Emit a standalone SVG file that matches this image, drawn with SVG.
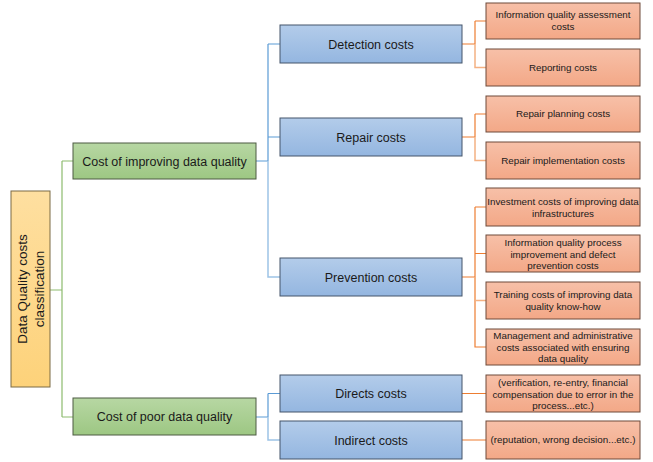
<svg xmlns="http://www.w3.org/2000/svg" width="653" height="462" viewBox="0 0 653 462">
<defs>
<linearGradient id="gY" x1="0" y1="0" x2="0" y2="1"><stop offset="0" stop-color="#FEDFA0"/><stop offset="1" stop-color="#FDD27A"/></linearGradient>
<linearGradient id="gG" x1="0" y1="0" x2="0" y2="1"><stop offset="0" stop-color="#B7D7A3"/><stop offset="1" stop-color="#9DC783"/></linearGradient>
<linearGradient id="gB" x1="0" y1="0" x2="0" y2="1"><stop offset="0" stop-color="#B3CCEA"/><stop offset="1" stop-color="#94B6E0"/></linearGradient>
<linearGradient id="gO" x1="0" y1="0" x2="0" y2="1"><stop offset="0" stop-color="#F7C0A8"/><stop offset="1" stop-color="#F3A887"/></linearGradient>
</defs>
<style>
.y{fill:url(#gY);stroke:#7a6a45;stroke-width:1}
.g{fill:url(#gG);stroke:#4d5b42;stroke-width:1}
.b{fill:url(#gB);stroke:#44546a;stroke-width:1}
.o{fill:url(#gO);stroke:#6e4a3a;stroke-width:1}
text{font-family:"Liberation Sans",Arial,sans-serif;fill:#1a1a1a;text-anchor:middle}
.tg{font-size:12.5px}
.tb{font-size:12.5px}
.to{font-size:9.8px}
.tr{font-size:13.5px}
.cg{fill:none;stroke:#8DBB6E;stroke-width:1.2}
.cb{fill:none;stroke:#5B9BD5;stroke-width:1.2}
.cb2{fill:none;stroke:#9DC3E6;stroke-width:1.5}
.co{fill:none;stroke:#ED7D31;stroke-width:1.2}
.co2{fill:none;stroke:#F4B183;stroke-width:1.5}
</style>
<g id="connectors">
<path class="cg" d="M50 290 H62 M62 161 V417 M62 161 H73 M62 417 H73"/>
<path class="cb" d="M256 161 H268 M268 44 V161 M268 44 H280 M268 137 H280"/>
<path class="cb2" d="M268 161 V277 H280"/>
<path class="cb" d="M256 417 H268 M268 393.5 V417 M268 393.5 H280"/>
<path class="cb2" d="M268 417 V440 H280"/>
<path class="co" d="M462 44 H475 M475 21 V44 M475 21 H486"/>
<path class="co2" d="M475 44 V67.5 H486"/>
<path class="co" d="M462 137 H475 M475 114 V137 M475 114 H486"/>
<path class="co2" d="M475 137 V160.5 H486"/>
<path class="co" d="M462 277 H475 M475 207 V277 M475 207 H486 M475 253.5 H486 M475 277 V347 H486"/>
<path class="co2" d="M475 277 V300.5 H486"/>
<path class="co" d="M462 393.5 H486 M462 440 H486"/>
</g>
<g id="root">
<rect class="y" x="11" y="191" width="39" height="196"/>
<text class="tr" transform="translate(30.5 289) rotate(-90)"><tspan x="0" y="-4">Data Quality costs</tspan><tspan x="0" y="13">classification</tspan></text>
</g>
<g id="improving">
<rect class="g" x="73" y="143" width="183" height="36"/>
<text class="tg" x="164.5" y="165.5">Cost of improving data quality</text>
</g>
<g id="poor">
<rect class="g" x="73" y="398" width="183" height="37"/>
<text class="tg" x="164.5" y="421">Cost of poor data quality</text>
</g>
<g id="detection">
<rect class="b" x="280" y="25" width="182" height="38"/>
<text class="tb" x="371" y="48.5">Detection  costs</text>
</g>
<g id="repair">
<rect class="b" x="280" y="118" width="182" height="38"/>
<text class="tb" x="371" y="141.5">Repair costs</text>
</g>
<g id="prevention">
<rect class="b" x="280" y="258" width="182" height="38"/>
<text class="tb" x="371" y="281.5">Prevention costs</text>
</g>
<g id="directs">
<rect class="b" x="280" y="375" width="182" height="37"/>
<text class="tb" x="371" y="398">Directs costs</text>
</g>
<g id="indirect">
<rect class="b" x="280" y="421" width="182" height="38"/>
<text class="tb" x="371" y="444.5">Indirect costs</text>
</g>
<g id="assessment">
<rect class="o" x="486" y="3" width="154" height="36"/>
<text class="to" x="563" y="18">Information quality assessment</text>
<text class="to" x="563" y="30">costs</text>
</g>
<g id="reporting">
<rect class="o" x="486" y="49" width="154" height="37"/>
<text class="to" x="563" y="71">Reporting costs</text>
</g>
<g id="repairplanning">
<rect class="o" x="486" y="96" width="154" height="36"/>
<text class="to" x="563" y="117">Repair planning costs</text>
</g>
<g id="repairimpl">
<rect class="o" x="486" y="142" width="154" height="37"/>
<text class="to" x="563" y="164">Repair implementation costs</text>
</g>
<g id="investment">
<rect class="o" x="486" y="188" width="154" height="38"/>
<text class="to" x="563" y="205">Investment costs of improving data</text>
<text class="to" x="563" y="217">infrastructures</text>
</g>
<g id="process">
<rect class="o" x="486" y="235" width="154" height="37"/>
<text class="to" x="563" y="246">Information quality process</text>
<text class="to" x="563" y="258">improvement and defect</text>
<text class="to" x="563" y="269">prevention costs</text>
</g>
<g id="training">
<rect class="o" x="486" y="282" width="154" height="37"/>
<text class="to" x="563" y="298">Training costs of improving data</text>
<text class="to" x="563" y="310">quality know-how</text>
</g>
<g id="management">
<rect class="o" x="486" y="329" width="154" height="36"/>
<text class="to" x="563" y="339">Management and administrative</text>
<text class="to" x="563" y="351">costs associated with ensuring</text>
<text class="to" x="563" y="362">data quality</text>
</g>
<g id="directdetail">
<rect class="o" x="486" y="375" width="154" height="37"/>
<text class="to" x="563" y="386">(verification, re-entry, financial</text>
<text class="to" x="563" y="398">compensation due to error in the</text>
<text class="to" x="563" y="409">process...etc.)</text>
</g>
<g id="indirectdetail">
<rect class="o" x="486" y="421" width="154" height="38"/>
<text class="to" x="563" y="443">(reputation, wrong decision...etc.)</text>
</g>
</svg>
